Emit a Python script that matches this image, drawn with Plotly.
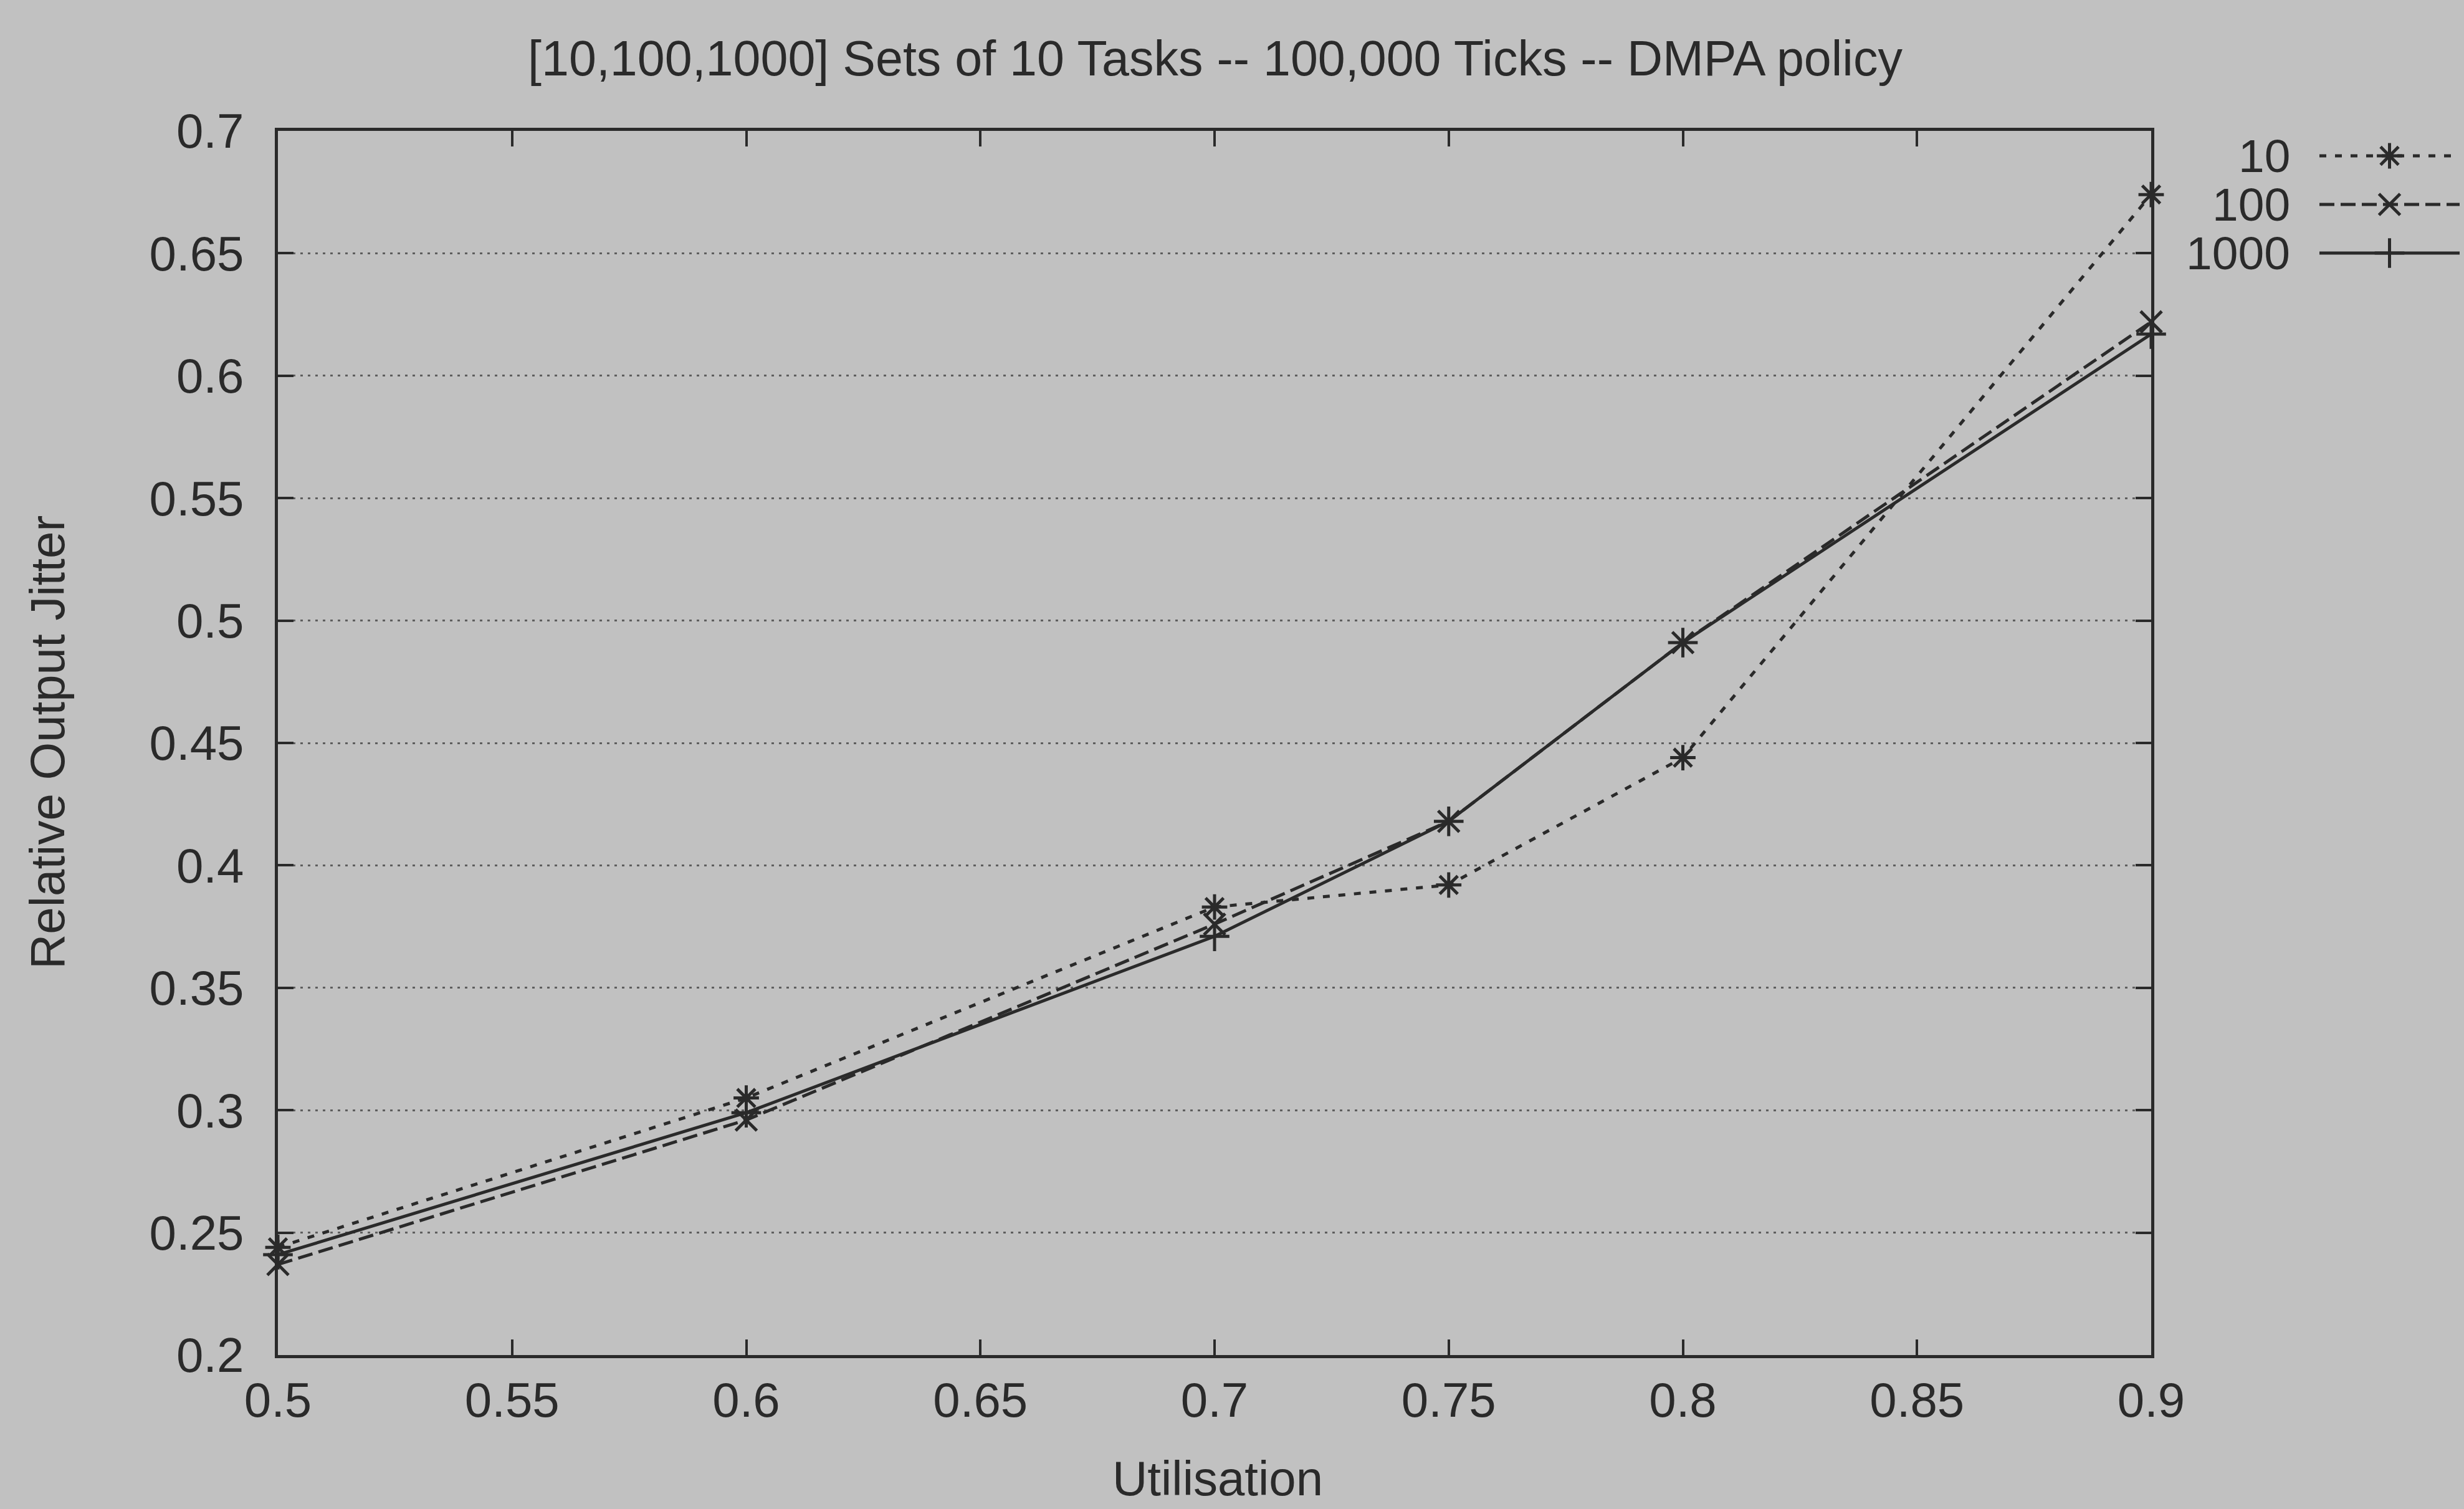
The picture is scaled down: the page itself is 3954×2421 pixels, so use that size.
import plotly.graph_objects as go

# ---------------- data ----------------
utilisation = [0.5, 0.6, 0.7, 0.75, 0.8, 0.9]
jitter_10 = [0.244, 0.305, 0.383, 0.392, 0.444, 0.674]
jitter_100 = [0.237, 0.296, 0.376, 0.418, 0.491, 0.622]
jitter_1000 = [0.241, 0.299, 0.371, 0.418, 0.491, 0.617]
series_names = ["10", "100", "1000"]

x_ticks = [0.5, 0.55, 0.6, 0.65, 0.7, 0.75, 0.8, 0.85, 0.9]
x_tick_labels = ["0.5", "0.55", "0.6", "0.65", "0.7", "0.75", "0.8", "0.85", "0.9"]
y_ticks = [0.2, 0.25, 0.3, 0.35, 0.4, 0.45, 0.5, 0.55, 0.6, 0.65, 0.7]
y_tick_labels = ["0.2", "0.25", "0.3", "0.35", "0.4", "0.45", "0.5", "0.55", "0.6", "0.65", "0.7"]

title_text = "[10,100,1000] Sets of 10 Tasks -- 100,000 Ticks -- DMPA policy"
x_title = "Utilisation"
y_title = "Relative Output Jitter"

# ---------------- styling ----------------
W, H = 3954, 2421
BG = "#c1c1c1"
INK = "#2a2a2a"
FONT = "Liberation Sans, Arial, sans-serif"
FS = 78
KEY_FS = 75

plot_left, plot_right, plot_top, plot_bottom = 446, 3452, 210, 2174

styles = {
    "10": dict(dash="11px,14px", symbol="asterisk-open", width=5),
    "100": dict(dash="24px,10px", symbol="x-thin-open", width=5),
    "1000": dict(dash="solid", symbol="cross-thin-open", width=5),
}

fig = go.Figure()
for name, vals in zip(series_names, [jitter_10, jitter_100, jitter_1000]):
    st = styles[name]
    fig.add_trace(go.Scatter(
        x=utilisation, y=vals, mode="lines+markers", name=name,
        line=dict(color=INK, width=st["width"], dash=st["dash"]),
        marker=dict(symbol=st["symbol"], size=34, color=INK,
                    line=dict(width=5, color=INK)),
        cliponaxis=False, showlegend=False, xaxis="x", yaxis="y",
    ))

# ---- gnuplot-style key (text on left, sample on right) ----
key_x0, key_x1 = 3600, W          # key region (pixels)
key_y0, key_y1 = 200, 460
key_text_right = 3677
key_line_x0, key_line_x1 = 3722, 3947
key_row_y0, key_row_step = 250, 78
annotations = []
for i, name in enumerate(series_names):
    st = styles[name]
    yr = key_row_y0 + i * key_row_step
    xm = (key_line_x0 + key_line_x1) / 2
    fig.add_trace(go.Scatter(
        x=[key_line_x0, key_line_x1], y=[yr, yr], mode="lines",
        line=dict(color=INK, width=st["width"], dash=st["dash"]),
        showlegend=False, xaxis="x2", yaxis="y2", hoverinfo="skip",
        cliponaxis=False,
    ))
    fig.add_trace(go.Scatter(
        x=[xm], y=[yr], mode="markers",
        marker=dict(symbol=st["symbol"], size=34, color=INK,
                    line=dict(width=5, color=INK)),
        showlegend=False, xaxis="x2", yaxis="y2", hoverinfo="skip",
        cliponaxis=False,
    ))
    annotations.append(dict(
        x=key_text_right / W, y=1 - yr / H, xref="paper", yref="paper",
        text=name, showarrow=False, xanchor="right", yanchor="middle",
        font=dict(family=FONT, size=KEY_FS, color=INK),
    ))

annotations.append(dict(
    x=1954 / W, y=1 - 2372 / H, xref="paper", yref="paper", text=x_title,
    showarrow=False, xanchor="center", yanchor="middle",
    font=dict(family=FONT, size=FS, color=INK),
))
annotations.append(dict(
    x=76 / W, y=1 - 1191 / H, xref="paper", yref="paper", text=y_title,
    showarrow=False, xanchor="center", yanchor="middle", textangle=-90,
    font=dict(family=FONT, size=FS, color=INK),
))

axis_common = dict(
    showline=True, linecolor=INK, linewidth=5, mirror="ticks",
    ticks="inside", ticklen=25, tickwidth=4, tickcolor=INK,
    tickfont=dict(family=FONT, size=FS, color=INK), zeroline=False,
)

fig.update_layout(
    width=W, height=H,
    margin=dict(l=0, r=0, t=0, b=0, autoexpand=False),
    paper_bgcolor=BG, plot_bgcolor="rgba(0,0,0,0)",
    title=dict(text=title_text, x=1950 / W, y=1 - 93 / H, xref="paper", yref="paper",
               xanchor="center", yanchor="middle",
               font=dict(family=FONT, size=79, color=INK)),
    xaxis=dict(domain=[plot_left / W, plot_right / W], range=[0.5, 0.9],
               tickvals=x_ticks, ticktext=x_tick_labels, showgrid=False,
               ticklabelstandoff=0, anchor="y", **axis_common),
    yaxis=dict(domain=[1 - plot_bottom / H, 1 - plot_top / H], range=[0.2, 0.7],
               tickvals=y_ticks, ticktext=y_tick_labels, showgrid=True,
               gridcolor="#5e5e5e", gridwidth=3, griddash="4px,8px",
               ticklabelstandoff=34, anchor="x", **axis_common),
    xaxis2=dict(domain=[key_x0 / W, key_x1 / W], range=[key_x0, key_x1],
                visible=False, anchor="y2", fixedrange=True),
    yaxis2=dict(domain=[1 - key_y1 / H, 1 - key_y0 / H], range=[key_y1, key_y0],
                visible=False, anchor="x2", fixedrange=True),
    annotations=annotations,
    font=dict(family=FONT, color=INK),
)

fig.write_html("out.html")
